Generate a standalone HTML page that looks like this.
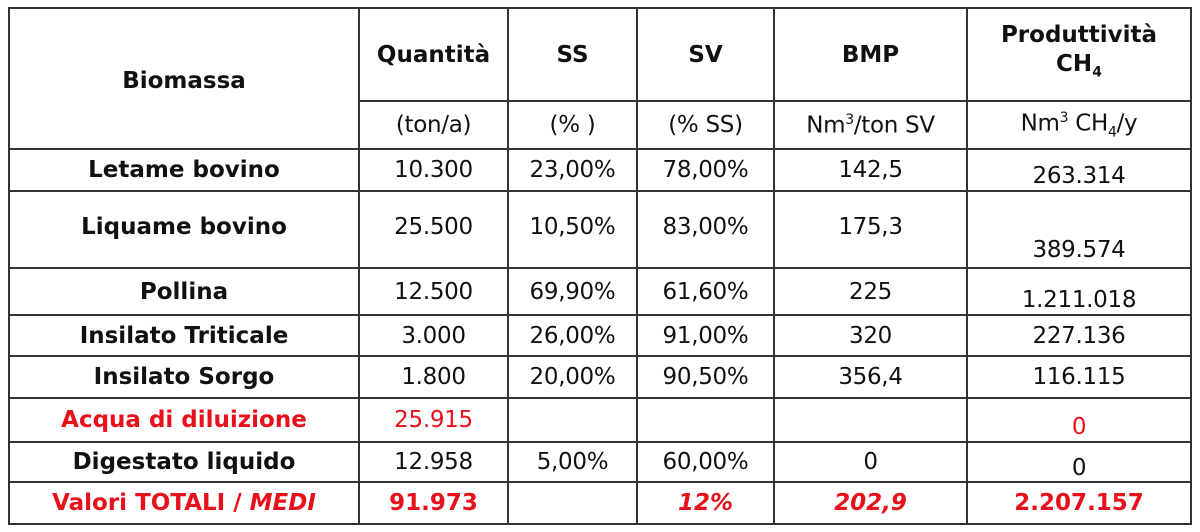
<!DOCTYPE html>
<html><head><meta charset="utf-8"><style>
body{margin:0;background:#fff;width:1200px;height:532px;overflow:hidden;font-family:"DejaVu Sans","Liberation Sans",sans-serif;}
table{position:absolute;left:8px;top:7px;border-collapse:collapse;table-layout:fixed;}
td{border:2px solid #333;text-align:center;padding:0;font-size:23px;color:#111;letter-spacing:-0.3px;white-space:nowrap;}
.b{font-weight:bold;font-size:23px;letter-spacing:0;}
.r{color:#e8101a;}
.i{font-style:italic;}
.bt{vertical-align:bottom;padding-bottom:4px;}
sub,sup{font-size:14px;}
</style></head><body>
<table>
<colgroup><col style="width:350px"><col style="width:149px"><col style="width:129px"><col style="width:137px"><col style="width:193px"><col style="width:224px"></colgroup>
<tr style="height:93px"><td class="b" rowspan="2" style="padding-top:4px">Biomassa</td><td class="b">Quantità</td><td class="b">SS</td><td class="b">SV</td><td class="b">BMP</td><td class="b" style="line-height:29px">Produttività<br>CH<sub>4</sub></td></tr>
<tr style="height:48px"><td>(ton/a)</td><td>(% )</td><td>(% SS)</td><td>Nm<sup>3</sup>/ton SV</td><td>Nm<sup>3</sup> CH<sub>4</sub>/y</td></tr>
<tr style="height:42px"><td class="b">Letame bovino</td><td>10.300</td><td>23,00%</td><td>78,00%</td><td>142,5</td><td class="bt" style="padding-bottom:1px">263.314</td></tr>
<tr style="height:77px"><td class="b" style="vertical-align:top;padding-top:22px">Liquame bovino</td><td style="vertical-align:top;padding-top:22px">25.500</td><td style="vertical-align:top;padding-top:22px">10,50%</td><td style="vertical-align:top;padding-top:22px">83,00%</td><td style="vertical-align:top;padding-top:22px">175,3</td><td class="bt">389.574</td></tr>
<tr style="height:47px"><td class="b">Pollina</td><td>12.500</td><td>69,90%</td><td>61,60%</td><td>225</td><td class="bt" style="padding-bottom:1px">1.211.018</td></tr>
<tr style="height:41px"><td class="b">Insilato Triticale</td><td>3.000</td><td>26,00%</td><td>91,00%</td><td>320</td><td>227.136</td></tr>
<tr style="height:42px"><td class="b">Insilato Sorgo</td><td>1.800</td><td>20,00%</td><td>90,50%</td><td>356,4</td><td>116.115</td></tr>
<tr style="height:44px"><td class="b r">Acqua di diluizione</td><td class="r">25.915</td><td></td><td></td><td></td><td class="r bt" style="padding-bottom:1px">0</td></tr>
<tr style="height:40px"><td class="b">Digestato liquido</td><td>12.958</td><td>5,00%</td><td>60,00%</td><td>0</td><td class="bt" style="padding-bottom:0px">0</td></tr>
<tr style="height:42px"><td class="b r">Valori TOTALI / <span class="i">MEDI</span></td><td class="b r">91.973</td><td></td><td class="b r i">12%</td><td class="b r i">202,9</td><td class="b r">2.207.157</td></tr>
</table>
</body></html>
